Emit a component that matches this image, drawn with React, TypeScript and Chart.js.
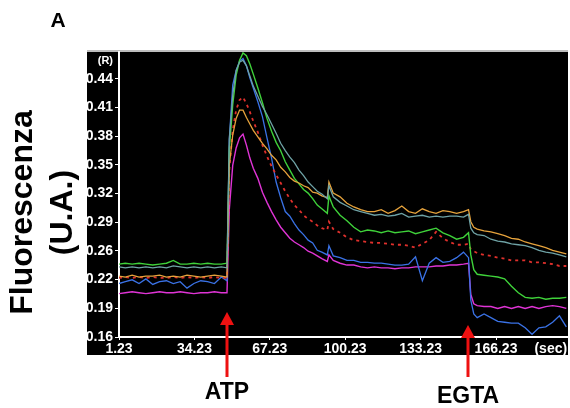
import React, { useEffect, useRef } from "react";
import { Chart, registerables } from "chart.js";

Chart.register(...registerables);

// time (sec)
const time = [1.23, 4, 7, 10, 13, 16, 19, 22, 25, 28, 31, 34, 37, 40, 43, 46, 48.5, 49.5, 51, 52.5, 54, 55.5, 57, 58.5, 60, 62, 64, 66, 68, 70, 72, 74, 76, 78, 80, 82, 84, 86, 88, 90, 92.4, 93.1, 95, 98, 101, 104, 107, 110, 113, 116, 119, 122, 125, 128, 131, 134, 137, 140, 143, 146, 149, 152, 154.2, 155.2, 156.5, 158, 161, 164, 167, 170, 173, 176, 179, 182, 185, 188, 191, 194, 197];

const green = [0.239, 0.240, 0.239, 0.240, 0.239, 0.238, 0.239, 0.240, 0.243, 0.239, 0.239, 0.240, 0.239, 0.240, 0.239, 0.239, 0.240,
  0.363, 0.412, 0.444, 0.460, 0.468, 0.465, 0.456, 0.445,
  0.430, 0.414, 0.397, 0.383, 0.371, 0.362, 0.350, 0.341, 0.332, 0.326, 0.320, 0.316, 0.310, 0.303, 0.299,
  0.294, 0.313, 0.301,
  0.292, 0.286, 0.279, 0.274, 0.276, 0.275, 0.273, 0.275, 0.273, 0.274, 0.275, 0.272, 0.274, 0.276, 0.278, 0.273, 0.270, 0.266, 0.268,
  0.273, 0.249, 0.233, 0.228,
  0.227, 0.226, 0.225, 0.223, 0.215, 0.208, 0.203, 0.202, 0.203, 0.201, 0.202, 0.202, 0.203];

const teal = [0.236, 0.235, 0.236, 0.235, 0.236, 0.235, 0.236, 0.235, 0.237, 0.236, 0.235, 0.236, 0.235, 0.236, 0.235, 0.236, 0.235,
  0.374, 0.422, 0.449, 0.458, 0.460, 0.454, 0.443, 0.432,
  0.421, 0.410, 0.401, 0.391, 0.381, 0.370, 0.362, 0.355, 0.349, 0.341, 0.335, 0.328, 0.323, 0.318, 0.315,
  0.310, 0.324, 0.312,
  0.306, 0.302, 0.298, 0.296, 0.294, 0.292, 0.293, 0.291, 0.292, 0.294, 0.290, 0.291, 0.292, 0.290, 0.291, 0.290, 0.291, 0.291, 0.290,
  0.293, 0.278, 0.273, 0.271,
  0.270, 0.266, 0.264, 0.263, 0.261, 0.260, 0.259, 0.257, 0.254, 0.252, 0.251, 0.249, 0.247];

const orange = [0.226, 0.225, 0.227, 0.225, 0.226, 0.226, 0.227, 0.225, 0.226, 0.225, 0.227, 0.226, 0.225, 0.226, 0.227, 0.226, 0.225,
  0.346, 0.379, 0.397, 0.406, 0.406, 0.398, 0.391, 0.384,
  0.377, 0.370, 0.364, 0.357, 0.352, 0.344, 0.339, 0.333, 0.329, 0.327, 0.324, 0.322, 0.317, 0.316, 0.313,
  0.311, 0.328, 0.316,
  0.312, 0.305, 0.301, 0.298, 0.296, 0.296, 0.298, 0.294, 0.297, 0.302, 0.296, 0.294, 0.299, 0.296, 0.294, 0.297, 0.296, 0.294, 0.296,
  0.298, 0.285, 0.279, 0.277,
  0.275, 0.274, 0.272, 0.270, 0.267, 0.266, 0.263, 0.261, 0.259, 0.257, 0.254, 0.252, 0.250];

const redDotted = [0.224, 0.225, 0.224, 0.225, 0.224, 0.225, 0.224, 0.224, 0.225, 0.224, 0.225, 0.224, 0.225, 0.224, 0.225, 0.224, 0.224,
  0.341, 0.384, 0.406, 0.417, 0.420, 0.413, 0.404, 0.394,
  0.382, 0.368, 0.356, 0.345, 0.336, 0.327, 0.318, 0.310, 0.303, 0.298, 0.292, 0.288, 0.285, 0.281, 0.278,
  0.276, 0.285, 0.277,
  0.273, 0.268, 0.265, 0.264, 0.263, 0.262, 0.262, 0.261, 0.260, 0.260, 0.259, 0.257, 0.261, 0.265, 0.274, 0.267, 0.263, 0.260, 0.260,
  0.261, 0.255, 0.253, 0.251,
  0.249, 0.248, 0.246, 0.245, 0.243, 0.243, 0.243, 0.241, 0.241, 0.240, 0.239, 0.237, 0.237];

const blue = [0.218, 0.220, 0.222, 0.218, 0.223, 0.217, 0.220, 0.221, 0.218, 0.220, 0.213, 0.218, 0.221, 0.220, 0.218, 0.225, 0.221,
  0.374, 0.433, 0.449, 0.459, 0.462, 0.454, 0.441, 0.430,
  0.415, 0.399, 0.376, 0.354, 0.328, 0.311, 0.296, 0.291, 0.283, 0.276, 0.271, 0.265, 0.262, 0.254, 0.252,
  0.249, 0.259, 0.248,
  0.246, 0.243, 0.243, 0.241, 0.241, 0.240, 0.240, 0.239, 0.238, 0.238, 0.239, 0.247, 0.221, 0.240, 0.246, 0.241, 0.242, 0.246, 0.252,
  0.246, 0.200, 0.185, 0.181,
  0.185, 0.181, 0.177, 0.176, 0.175, 0.175, 0.170, 0.163, 0.170, 0.171, 0.176, 0.183, 0.171];

const magenta = [0.207, 0.208, 0.209, 0.208, 0.207, 0.208, 0.209, 0.208, 0.208, 0.209, 0.208, 0.207, 0.208, 0.208, 0.209, 0.208, 0.208,
  0.298, 0.346, 0.365, 0.376, 0.380, 0.368, 0.354, 0.343,
  0.332, 0.317, 0.306, 0.296, 0.287, 0.279, 0.273, 0.267, 0.263, 0.260, 0.257, 0.253, 0.251, 0.248, 0.245,
  0.242, 0.249, 0.243,
  0.240, 0.238, 0.238, 0.236, 0.235, 0.236, 0.235, 0.235, 0.234, 0.235, 0.235, 0.236, 0.236, 0.236, 0.237, 0.237, 0.238, 0.238, 0.239,
  0.240, 0.206, 0.196, 0.194,
  0.193, 0.193, 0.191, 0.193, 0.191, 0.193, 0.191, 0.193, 0.191, 0.193, 0.194, 0.193, 0.191];

const yTickValues = [0.16, 0.1911, 0.2222, 0.2533, 0.2844, 0.3156, 0.3467, 0.3778, 0.4089, 0.44, 0.4596];
const yTickLabels = ["0.16", "0.19", "0.22", "0.26", "0.29", "0.32", "0.35", "0.38", "0.41", "0.44", "(R)"];
const xTickValues = [1.23, 34.23, 67.23, 100.23, 133.23, 166.23, 190.2];
const xTickLabels = ["1.23", "34.23", "67.23", "100.23", "133.23", "166.23", "(sec)"];

const yTitleLines = ["Fluorescenza", "(U.A.)"];
const panelLetter = "A";
const eventLabels = ["ATP", "EGTA"];
const eventTimes = [48.3, 153.8];

const NARROW = "'Liberation Sans Narrow', 'Liberation Sans', Arial, sans-serif";
const SANS = "'Liberation Sans', Arial, sans-serif";

const series = [
  { data: teal, color: "#6fa3a6", width: 1.3, dash: [] as number[] },
  { data: orange, color: "#e6a33c", width: 1.3, dash: [] as number[] },
  { data: green, color: "#3fd23a", width: 1.4, dash: [] as number[] },
  { data: redDotted, color: "#e0302c", width: 1.8, dash: [3, 4] },
  { data: blue, color: "#3a72e6", width: 1.3, dash: [] as number[] },
  { data: magenta, color: "#e034d6", width: 1.4, dash: [] as number[] },
];

const panelPlugin = {
  id: "panel",
  beforeDraw(chart: any) {
    const { ctx, chartArea } = chart;
    const { left, top, right, bottom } = chartArea;
    ctx.save();
    ctx.fillStyle = "#000";
    ctx.fillRect(left - 32, top, right - left + 33, bottom - top + 18);
    ctx.fillStyle = "#bdbdbd";
    ctx.fillRect(left - 32, top - 2, right - left + 33, 2);
    ctx.restore();
  },
  afterDraw(chart: any) {
    const { ctx, chartArea } = chart;
    const xs = chart.scales.x;
    ctx.save();
    // panel letter
    ctx.fillStyle = "#000";
    ctx.font = "bold 21px " + SANS;
    ctx.textAlign = "center";
    ctx.textBaseline = "middle";
    ctx.fillText(panelLetter, 58, chartArea.top - 31);
    // y title
    ctx.save();
    const cy = (chartArea.top + chartArea.bottom) / 2 + 18;
    ctx.translate(0, cy);
    ctx.rotate(-Math.PI / 2);
    ctx.font = "bold 32px " + SANS;
    ctx.textAlign = "center";
    ctx.textBaseline = "middle";
    ctx.fillText(yTitleLines[0], 0, 23);
    ctx.fillText(yTitleLines[1], 0, 63);
    ctx.restore();
    // event arrows
    const tipOffsets = [25, 12];
    const labelOffsets = [56, 60];
    eventLabels.forEach((lab, i) => {
      const x = Math.round(xs.getPixelForValue(eventTimes[i]));
      const tip = chartArea.bottom - tipOffsets[i];
      ctx.fillStyle = "#ee1111";
      ctx.beginPath();
      ctx.moveTo(x, tip);
      ctx.lineTo(x - 7, tip + 13);
      ctx.lineTo(x + 7, tip + 13);
      ctx.closePath();
      ctx.fill();
      ctx.fillRect(x - 1.5, tip + 12, 3, chartArea.bottom + 40 - tip - 12);
      ctx.fillStyle = "#000";
      ctx.font = "bold 23px " + NARROW;
      ctx.textAlign = "center";
      ctx.textBaseline = "middle";
      ctx.fillText(lab, x, chartArea.bottom + labelOffsets[i]);
    });
    ctx.restore();
  },
};

export default function App() {
  const ref = useRef<HTMLCanvasElement | null>(null);
  useEffect(() => {
    if (!ref.current) return;
    const chart = new Chart(ref.current, {
      type: "line",
      data: {
        datasets: series.map((s) => ({
          data: s.data.map((v, i) => ({ x: time[i], y: v })),
          borderColor: s.color,
          borderWidth: s.width,
          borderDash: s.dash,
          pointRadius: 0,
          tension: 0,
          fill: false,
        })),
      },
      options: {
        animation: false,
        responsive: false,
        devicePixelRatio: 1,
        layout: { padding: { top: 52, right: 3, left: 0, bottom: 0 } },
        plugins: { legend: { display: false }, tooltip: { enabled: false } },
        scales: {
          x: {
            type: "linear",
            min: 1.23,
            max: 197.3,
            afterBuildTicks: (scale: any) => {
              scale.ticks = xTickValues.map((v) => ({ value: v }));
            },
            afterFit: (scale: any) => {
              scale.height = 71;
            },
            grid: {
              drawOnChartArea: false,
              drawTicks: true,
              tickLength: 3,
              tickColor: (ctx: any) => (ctx.index === xTickValues.length - 1 ? "rgba(0,0,0,0)" : "#ffffff"),
            },
            border: { color: "#ffffff", width: 2 },
            ticks: {
              autoSkip: false,
              maxRotation: 0,
              padding: 1,
              color: "#ffffff",
              font: { family: NARROW, size: 14, weight: "bold" },
              callback: (_v: any, i: number) => xTickLabels[i],
            },
          },
          y: {
            type: "linear",
            min: 0.16,
            max: 0.469,
            afterBuildTicks: (scale: any) => {
              scale.ticks = yTickValues.map((v) => ({ value: v }));
            },
            afterFit: (scale: any) => {
              scale.width = 119;
            },
            grid: {
              drawOnChartArea: false,
              drawTicks: true,
              tickLength: 4,
              tickColor: (ctx: any) => (ctx.index === yTickValues.length - 1 ? "rgba(0,0,0,0)" : "#ffffff"),
            },
            border: { color: "#ffffff", width: 2 },
            ticks: {
              autoSkip: false,
              padding: 2,
              color: "#ffffff",
              font: (ctx: any) => ({
                family: NARROW,
                size: ctx.index === yTickValues.length - 1 ? 11 : 14,
                weight: "bold",
              }),
              callback: (_v: any, i: number) => yTickLabels[i],
            },
          },
        },
      },
      plugins: [panelPlugin],
    } as any);
    return () => chart.destroy();
  }, []);
  return (
    <div style={{ position: "fixed", left: 0, top: 0, width: 570, height: 408, background: "#fff" }}>
      <canvas ref={ref} width={570} height={408} style={{ display: "block" }} />
    </div>
  );
}
